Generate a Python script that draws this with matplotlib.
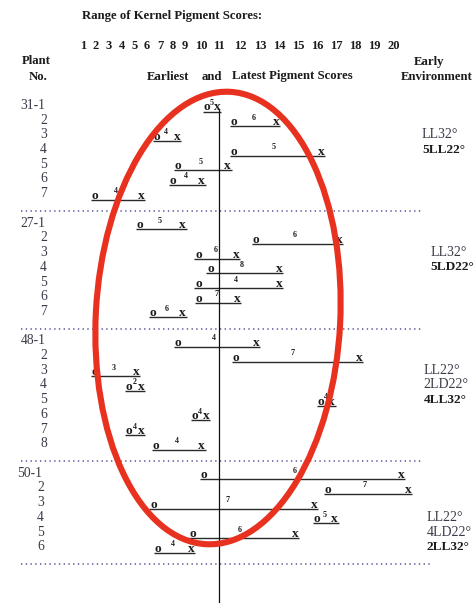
import numpy as np
import matplotlib
matplotlib.use("Agg")
import matplotlib.pyplot as plt
import matplotlib.transforms as mtransforms
from matplotlib.patches import Ellipse

# ---------------- data ----------------
plant_ids = ["31", "27", "48", "50"]

earliest_31 = [10.3, 11.7, 6.75, 11.7, 8.45, 8.0, 1.9]
latest_31 = [10.9, 13.85, 8.35, 16.2, 11.4, 10.0, 5.55]
counts_31 = [5, 6, 4, 5, 5, 4, 4]

earliest_27 = [5.45, 12.8, 9.8, 10.5, 9.8, 9.85, 6.45]
latest_27 = [8.8, 17.15, 11.8, 14.0, 14.0, 11.85, 8.8]
counts_27 = [5, 6, 6, 8, 4, 7, 6]

earliest_48 = [8.45, 11.8, 1.95, 4.6, 16.2, 9.6, 4.6, 6.7]
latest_48 = [12.8, 18.2, 5.15, 5.55, 16.75, 10.25, 5.55, 10.0]
counts_48 = [4, 7, 3, 2, 4, 4, 4, 4]

earliest_50 = [10.15, 16.55, 6.5, 16.0, 9.45, 6.85]
latest_50 = [20.4, 20.75, 15.85, 16.9, 14.85, 9.35]
counts_50 = [6, 7, 7, 5, 6, 4]

env_31 = ["LL32°", "5LL22°"]
env_27 = ["LL32°", "5LD22°"]
env_48 = ["LL22°", "2LD22°", "4LL32°"]
env_50 = ["LL22°", "4LD22°", "2LL32°"]
env_first_row = [3, 3, 3, 4]

score_ticks = list(range(1, 21))
reference_score = 11

# ---------------- layout ----------------
W, H = 477, 603
SERIF = "Liberation Serif"
INK = "#1c1c1c"
SOFT_INK = "#3a3a48"

# The score header is typed, so single-digit columns are narrower than
# two-digit ones; the axis follows those column positions (px from left).
col_px = [82.8, 95.9, 108.3, 121.7, 134.3, 146.7, 160.0, 172.7, 185.0, 201.7,
          219.0, 240.5, 260.0, 279.0, 298.0, 317.0, 336.5, 355.5, 374.0, 393.5]
S_ext = np.array([-10.0] + score_ticks + [30.0])
P_ext = np.array([col_px[0] - 11 * 13.1] + col_px + [col_px[-1] + 10 * 19.5])


def fwd(s):
    return np.interp(s, S_ext, P_ext)


def inv(p):
    return np.interp(p, P_ext, S_ext)


fig = plt.figure(figsize=(W / 100, H / 100), dpi=100)
px = mtransforms.Affine2D().scale(1 / W, -1 / H).translate(0, 1) + fig.transFigure

top = 52
ax = fig.add_axes([0, 0, 1, (H - top) / H])
ax.set_xscale("function", functions=(fwd, inv))
ax.set_xlim(inv(0), inv(W))
ax.set_ylim(H, top)
for sp in ax.spines.values():
    sp.set_visible(False)
ax.set_yticks([])
ax.xaxis.tick_top()
ax.set_xticks(score_ticks)
ax.set_xticklabels([str(s) for s in score_ticks])
ax.tick_params(axis="x", length=0, pad=0.3)
for lab in ax.get_xticklabels():
    lab.set_fontfamily(SERIF)
    lab.set_fontweight("bold")
    lab.set_fontsize(9)
    lab.set_color(INK)

# headers
fig.text(81.7, 16, "Range of Kernel Pigment Scores:", transform=px, ha="left",
         va="center", family=SERIF, weight="bold", fontsize=9.2, color=INK)
for txt, x, y in [("Plant", 36, 61.5), ("No.", 38.5, 76.5),
                  ("Early", 429, 61.5), ("Environment", 437, 76.5),
                  ("Earliest", 168, 76.5), ("and", 212, 76.5)]:
    fig.text(x, y, txt, transform=px, ha="center", va="center",
             family=SERIF, weight="bold", fontsize=9.2, color=INK)
fig.text(232.5, 76.5, "Latest Pigment Scores", transform=px, ha="left",
         va="center", family=SERIF, weight="bold", fontsize=9.2, color=INK)

groups = [
    (earliest_31, latest_31, counts_31, env_31),
    (earliest_27, latest_27, counts_27, env_27),
    (earliest_48, latest_48, counts_48, env_48),
    (earliest_50, latest_50, counts_50, env_50),
]
label_shift = [0, 0, 0, -3]
env_x = [422, 430.5, 423.5, 427]

step = 14.7
y0 = 105.5
for g, (early, late, cnt, env) in enumerate(groups):
    rows = [y0 + i * step for i in range(len(early))]
    for i, (e, l, c, y) in enumerate(zip(early, late, cnt, rows)):
        # plant number
        if i == 0:
            ax.text(20.5 + label_shift[g], y, f"{plant_ids[g]}-1", transform=px,
                    ha="left", va="center", family=SERIF, fontsize=9.8,
                    color=SOFT_INK)
        else:
            ax.text(43.5 + label_shift[g], y, str(i + 1), transform=px,
                    ha="center", va="center", family=SERIF, fontsize=9.8,
                    color=SOFT_INK)
        # range line under the marks
        x_left = inv(fwd(e) - 4)
        x_right = inv(fwd(l) + 4)
        ax.plot([x_left, x_right], [y + 6, y + 6], color="#2a2a2a", lw=1.0,
                zorder=2, solid_capstyle="butt")
        ax.text(e, y + 5, "o", ha="center", va="baseline", family=SERIF,
                weight="bold", fontsize=9.6, color=INK, zorder=6)
        ax.text(l, y + 5, "x", ha="center", va="baseline", family=SERIF,
                weight="bold", fontsize=9.6, color=INK, zorder=6)
        mid = inv(fwd(e) + 0.46 * (fwd(l) - fwd(e)))
        ax.text(mid, y - 2.5, str(c), ha="center", va="center", family=SERIF,
                weight="bold", fontsize=5.8, color=INK, zorder=6)
    # early environment notes
    for k, note in enumerate(env):
        bold = k == len(env) - 1
        yr = rows[env_first_row[g] - 1 + k]
        ax.text(env_x[g], yr, note, transform=px, ha="left", va="center",
                family=SERIF, fontsize=10 if not bold else 9.6,
                weight="bold" if bold else "normal",
                color=INK if bold else SOFT_INK)
    sep = rows[-1] + 17.5
    x_end = 433 if g == len(groups) - 1 else 421
    ax.plot([21.5, x_end], [sep, sep], transform=px, color="#55559a", lw=1.1,
            linestyle=(0, (0.9, 2.2)), clip_on=False)
    y0 = sep + 12

# reference line
ax.plot([reference_score, reference_score], [110, H], color="#111111",
        lw=0.9, zorder=3, clip_on=False)

# highlight ring
ring = Ellipse((2.18, (H - 318) / 100), 2.445, 4.53, angle=-3,
               transform=fig.dpi_scale_trans, fill=False,
               edgecolor="#e8321f", lw=4.4, zorder=4)
fig.add_artist(ring)

fig.savefig("out.png", dpi=100)
